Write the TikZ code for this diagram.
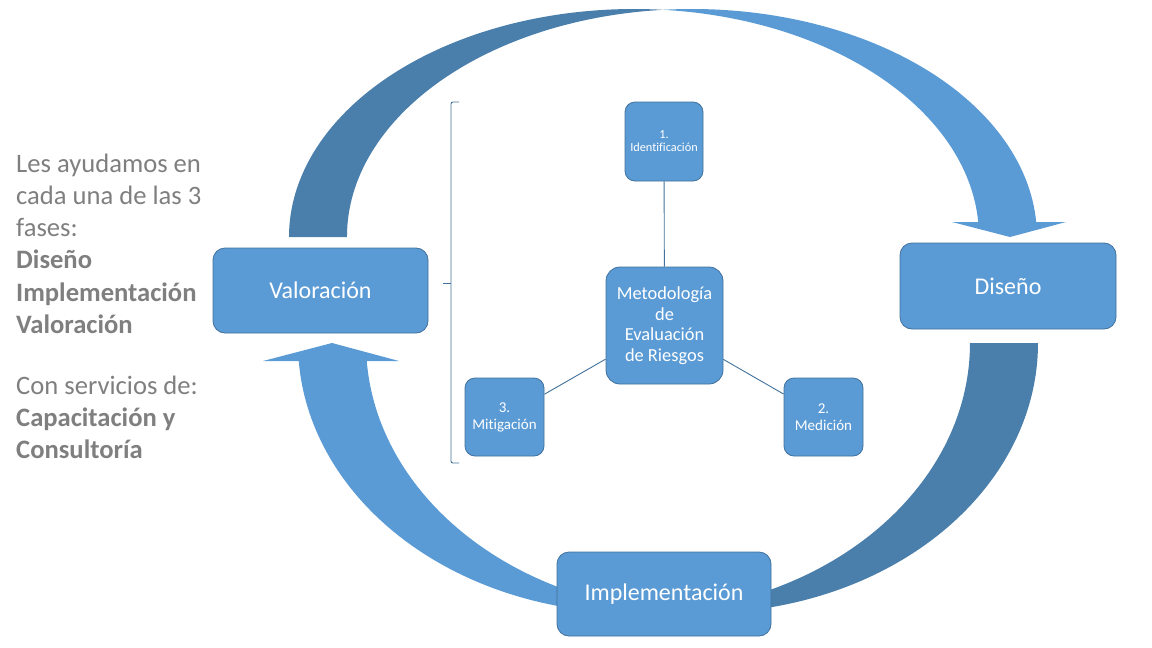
\documentclass[tikz,border=0pt]{standalone}
\usepackage{fontspec}
\setmainfont{Carlito}[Ligatures=NoCommon]
\definecolor{lb}{HTML}{5B9BD5}
\definecolor{db}{HTML}{4A7EAB}
\definecolor{bd}{HTML}{41719C}
\definecolor{gt}{HTML}{7F7F7F}
\begin{document}
\begin{tikzpicture}[x=1pt,y=-1pt,
  box/.style={draw=bd, line width=0.8pt, fill=lb, rounded corners=12pt, text=white, inner sep=0pt, align=center},
  big/.style={font=\fontsize{24}{28}\selectfont},
  conn/.style={draw=bd, line width=0.9pt},
  lt/.style={anchor=base west, text=gt, inner sep=0pt, font=\fontsize{26.6}{32}\selectfont},
  ltb/.style={anchor=base west, text=gt, inner sep=0pt, font=\fontsize{26.6}{32}\selectfont\bfseries}]
\useasboundingbox (0,0) rectangle (1152,648);
% top curved arrow: back (dark) part
\fill[db] (289,237) arc[start angle=180,end angle=274.82,x radius=345,y radius=228]
  arc[start angle=265.18,end angle=180,x radius=345,y radius=228] -- cycle;
% top curved arrow: front (light) part with head
\fill[lb] (978.25,222) arc[start angle=356.23,end angle=274.82,x radius=345,y radius=228]
  arc[start angle=265.18,end angle=356.23,x radius=345,y radius=228]
  -- (1066,222) -- (1010,237) -- (952,222) -- cycle;
% bottom curved arrow: back (dark) part
\fill[db] (1038,343) arc[start angle=0,end angle=95.81,x radius=336,y radius=270]
  arc[start angle=84.19,end angle=0,x radius=336,y radius=270] -- cycle;
% bottom curved arrow: front (light) part with head
\fill[lb] (298.75,361) arc[start angle=176.18,end angle=84.19,x radius=336,y radius=270]
  arc[start angle=95.81,end angle=176.18,x radius=336,y radius=270]
  -- (399,361) -- (332,343) -- (263,361) -- cycle;
% main boxes
\node[box, big, minimum width=215pt, minimum height=85pt] (valor) at (320.5,290.5) {Valoración};
\node[box, big, minimum width=216pt, minimum height=86pt] (diseno) at (1008,286) {Diseño};
\node[box, big, minimum width=214pt, minimum height=84pt] (impl) at (664,594) {Implementación};
% inner diagram
\node[box, rounded corners=14pt, minimum width=117pt, minimum height=117pt,
  font=\fontsize{18.4}{20.6}\selectfont] (meto) at (664.5,325.5) {Metodología\\de\\Evaluación\\de Riesgos};
\node[box, rounded corners=10pt, minimum width=78pt, minimum height=79pt,
  font=\fontsize{12.3}{13}\selectfont] (ident) at (664,141.5) {1.\\Identificación};
\node[box, rounded corners=10pt, minimum width=79pt, minimum height=78pt,
  font=\fontsize{15}{17}\selectfont] (mitig) at (504.5,417) {3.\\Mitigación};
\node[box, rounded corners=10pt, minimum width=79pt, minimum height=78pt,
  font=\fontsize{15}{17}\selectfont] (medic) at (823.5,417) {2.\\Medición};
\draw[conn] (ident) -- (meto);
\draw[conn] (meto) -- (mitig);
\draw[conn] (meto) -- (medic);
% brace
\draw[bd, line width=0.9pt, rounded corners=2pt] (459,102) -- (451,102) -- (451,463) -- (459,463);
\draw[bd, line width=0.9pt] (451,283) -- (443,283);
% left text
\node[lt] (l1) at (16,172) {Les ayudamos en};
\node[lt] (l2) at (16,204) {cada una de las 3};
\node[lt] (l3) at (16,236.5) {fases:};
\node[ltb] (l4) at (16,268.5) {Diseño};
\node[ltb] (l5) at (16,301) {Implementación};
\node[ltb] (l6) at (16,333) {Valoración};
\node[lt] (l7) at (16,394) {Con servicios de:};
\node[ltb] (l8) at (16,426) {Capacitación y};
\node[ltb] (l9) at (16,458) {Consultoría};
\end{tikzpicture}
\end{document}
